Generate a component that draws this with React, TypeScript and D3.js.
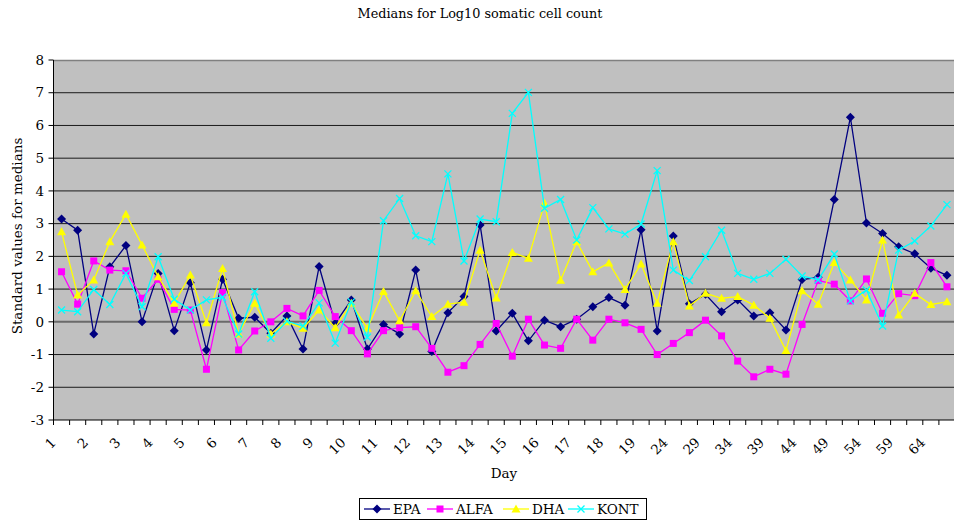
import React from "react";
import * as d3 from "d3";

// tick labels, one per two measurement slots
const dayLabels = [
  "1", "2", "3", "4", "5", "6", "7", "8", "9", "10", "11", "12", "13", "14",
  "15", "16", "17", "18", "19", "24", "29", "34", "39", "44", "49", "54", "59", "64",
];

const epa = [
  3.14, 2.8, -0.37, 1.68, 2.33, 0.0, 1.48, -0.27, 1.19, -0.86, 1.3, 0.11, 0.14, -0.35,
  0.18, -0.83, 1.69, -0.05, 0.67, -0.83, -0.08, -0.37, 1.58, -0.91, 0.28, 0.77, 2.96, -0.28,
  0.26, -0.58, 0.05, -0.15, 0.08, 0.46, 0.74, 0.51, 2.81, -0.28, 2.62, 0.55, 0.84, 0.31,
  0.67, 0.18, 0.28, -0.25, 1.29, 1.36, 3.74, 6.25, 3.02, 2.7, 2.29, 2.08, 1.64, 1.42,
];
const alfa = [
  1.53, 0.54, 1.86, 1.58, 1.56, 0.72, 1.3, 0.38, 0.36, -1.45, 0.89, -0.86, -0.28, 0.0,
  0.41, 0.18, 0.96, 0.16, -0.27, -0.98, -0.27, -0.18, -0.15, -0.81, -1.54, -1.34, -0.69, -0.05,
  -1.05, 0.08, -0.71, -0.81, 0.08, -0.56, 0.08, -0.03, -0.23, -1.0, -0.66, -0.33, 0.05, -0.43,
  -1.2, -1.68, -1.45, -1.6, -0.08, 1.26, 1.15, 0.64, 1.31, 0.26, 0.86, 0.8, 1.81, 1.07,
];
const dha = [
  2.75, 0.82, 1.28, 2.45, 3.29, 2.35, 1.38, 0.57, 1.43, -0.03, 1.63, -0.37, 0.57, -0.37,
  0.0, -0.2, 0.36, -0.18, 0.57, -0.2, 0.93, 0.03, 0.95, 0.16, 0.54, 0.6, 2.19, 0.73,
  2.12, 1.94, 3.62, 1.27, 2.45, 1.53, 1.8, 0.99, 1.77, 0.57, 2.45, 0.48, 0.87, 0.72,
  0.77, 0.51, 0.11, -0.88, 0.95, 0.54, 1.81, 1.28, 0.67, 2.5, 0.21, 0.87, 0.53, 0.61,
];
const kont = [
  0.36, 0.31, 0.99, 0.53, 1.48, 0.46, 1.99, 0.69, 0.36, 0.67, 0.75, -0.37, 0.92, -0.5,
  0.02, -0.13, 0.58, -0.65, 0.61, -0.47, 3.09, 3.77, 2.63, 2.45, 4.52, 1.86, 3.14, 3.06,
  6.37, 7.01, 3.47, 3.74, 2.5, 3.49, 2.84, 2.68, 2.99, 4.62, 1.58, 1.26, 1.99, 2.8,
  1.48, 1.3, 1.48, 1.91, 1.4, 1.28, 2.07, 0.64, 0.97, -0.13, 2.19, 2.47, 2.93, 3.58,
];

const yTicks = d3.range(-3, 9);

const series = [
  { name: "EPA", values: epa, color: "#000080", marker: "diamond" },
  { name: "ALFA", values: alfa, color: "#FF00FF", marker: "square" },
  { name: "DHA", values: dha, color: "#FFFF00", marker: "triangle" },
  { name: "KONT", values: kont, color: "#00FFFF", marker: "x" },
];

const W = 954;
const H = 521;
const left = 53.5;
const right = 955;
const top = 60;
const bottom = 420;
const font = "'DejaVu Serif', serif";

function Marker({ type, x, y, color }) {
  if (type === "diamond") {
    return <path d={`M${x},${y - 4.5}L${x + 4.5},${y}L${x},${y + 4.5}L${x - 4.5},${y}Z`} fill={color} />;
  }
  if (type === "square") {
    return <rect x={x - 3.5} y={y - 3.5} width={7} height={7} fill={color} />;
  }
  if (type === "triangle") {
    return <path d={`M${x},${y - 4.5}L${x + 4.5},${y + 3.5}L${x - 4.5},${y + 3.5}Z`} fill={color} />;
  }
  return (
    <path
      d={`M${x - 3.5},${y - 3.5}L${x + 3.5},${y + 3.5}M${x - 3.5},${y + 3.5}L${x + 3.5},${y - 3.5}`}
      stroke={color}
      strokeWidth={1.3}
    />
  );
}

export default function App() {
  const n = epa.length;
  const x = d3.scaleBand<number>().domain(d3.range(n)).range([left, right]).paddingInner(0);
  const cx = (i: number) => (x(i) as number) + x.bandwidth() / 2;
  const y = d3.scaleLinear().domain([-3, 8]).range([bottom, top]);
  const line = d3
    .line<number>()
    .x((_, i) => cx(i))
    .y((d) => y(d));

  return (
    <div style={{ position: "absolute", left: 0, top: 0 }}>
      <svg width={W} height={H} style={{ display: "block", fontFamily: font }}>
        <rect width={W} height={H} fill="#fff" />
        <text x={480} y={18} textAnchor="middle" fontSize={12.8}>
          Medians for Log10 somatic cell count
        </text>
        <rect x={left} y={top} width={right - left} height={bottom - top} fill="#C0C0C0" />
        <line x1={left} x2={right} y1={top + 0.5} y2={top + 0.5} stroke="#808080" strokeWidth={1.5} />
        {yTicks.map((t) => (
          <g key={t}>
            {t !== -3 && t !== 8 && (
              <line
                x1={left}
                x2={right}
                y1={y(t)}
                y2={y(t)}
                stroke={t === 0 ? "#6a6a6a" : "#1a1a1a"}
                strokeWidth={t === 0 ? 2 : 1}
              />
            )}
            <line x1={left - 5} x2={left} y1={y(t)} y2={y(t)} stroke="#000" />
            <text x={44} y={y(t)} dy="0.35em" textAnchor="end" fontSize={13.5}>
              {t}
            </text>
          </g>
        ))}
        <line x1={left} x2={left} y1={top} y2={bottom} stroke="#000" />
        <line x1={left} x2={right} y1={bottom} y2={bottom} stroke="#000" />
        {d3.range(n + 1).map((i) => {
          const tx = left + i * x.bandwidth();
          return <line key={i} x1={tx} x2={tx} y1={bottom} y2={bottom + 5} stroke="#000" />;
        })}
        {dayLabels.map((d, k) => {
          const ax = cx(k * 2) - 8;
          const ay = 440;
          return (
            <text
              key={d}
              x={ax}
              y={ay}
              dy="0.35em"
              textAnchor="end"
              fontSize={13.5}
              transform={`rotate(-45 ${ax} ${ay})`}
            >
              {d}
            </text>
          );
        })}
        <text x={504} y={478} textAnchor="middle" fontSize={13.5}>
          Day
        </text>
        <text
          x={0}
          y={0}
          transform={`translate(22 ${(top + bottom) / 2 - 4}) rotate(-90)`}
          textAnchor="middle"
          fontSize={13.5}
        >
          Standard values for medians
        </text>
        {series.map((s) => (
          <g key={s.name}>
            <path d={line(s.values) || ""} fill="none" stroke={s.color} strokeWidth={1.3} />
            {s.values.map((v, i) => (
              <Marker key={i} type={s.marker} x={cx(i)} y={y(v)} color={s.color} />
            ))}
          </g>
        ))}
        <rect x={359.5} y={498.5} width={287} height={21} fill="#fff" stroke="#000" />
        {series.map((s, k) => {
          const lx = [364, 427, 503, 568][k];
          const ly = 509;
          return (
            <g key={s.name}>
              <line x1={lx} x2={lx + 26} y1={ly} y2={ly} stroke={s.color} strokeWidth={1.3} />
              <Marker type={s.marker} x={lx + 13} y={ly} color={s.color} />
              <text x={lx + 29} y={ly} dy="0.35em" fontSize={13.5}>
                {s.name}
              </text>
            </g>
          );
        })}
      </svg>
    </div>
  );
}
